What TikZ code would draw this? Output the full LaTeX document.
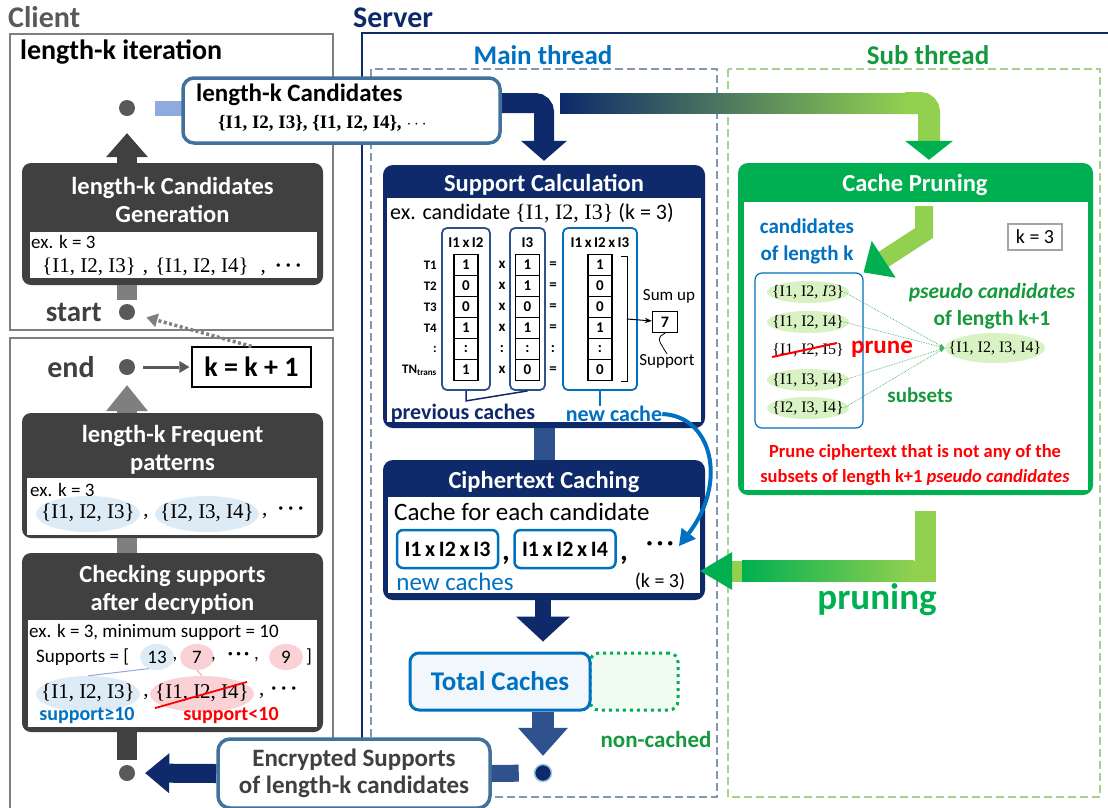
\documentclass[tikz,border=0pt]{standalone}
\usepackage{fontspec}
\setmainfont{Carlito}
\newfontfamily\setfnt{Liberation Serif}
\usetikzlibrary{arrows.meta,positioning,shapes.geometric}

\definecolor{cdark}{HTML}{404040}
\definecolor{cdot}{HTML}{595959}
\definecolor{cbar}{HTML}{7F7F7F}
\definecolor{cnavy}{HTML}{0E2A6B}
\definecolor{cmnavy}{HTML}{2F528F}
\definecolor{cblue}{HTML}{0070C0}
\definecolor{csteel}{HTML}{41719C}
\definecolor{clblue}{HTML}{8FAADC}
\definecolor{cpaleblue}{HTML}{DDEBF7}
\definecolor{cicebl}{HTML}{F2F7FC}
\definecolor{cgreen}{HTML}{00B050}
\definecolor{clgreen}{HTML}{92D050}
\definecolor{ctgreen}{HTML}{15993D}
\definecolor{cpalegreen}{HTML}{D8F2C4}
\definecolor{cmint}{HTML}{F0FBF2}
\definecolor{cpink}{HTML}{FAD2D6}
\definecolor{corange}{HTML}{F4B183}
\definecolor{cdash}{HTML}{8497B0}
\definecolor{cdashg}{HTML}{A9D18E}
\definecolor{cred}{HTML}{FF0000}

\newcommand\fsz[2]{\fontsize{#1}{#2}\selectfont}

\begin{document}
\begin{tikzpicture}
  [x=1pt,y=-1pt,every node/.style={inner sep=0pt},
   dot/.style={circle,fill=cdot,minimum size=16pt},
   darkbox/.style={rounded corners=9pt,fill=cdark},
   navybox/.style={rounded corners=10pt,fill=cnavy},
   inbox/.style={fill=white},
   boxtitle/.style={text=white,font=\bfseries\fsz{24.5}{28},align=center},
   exline/.style={anchor=west,font=\fsz{19}{22}},
   itemset/.style={font=\setfnt\fsz{21}{24}},
   bigell/.style={ellipse,minimum width=104pt,minimum height=36pt},
   smallell/.style={ellipse,minimum width=34pt,minimum height=26pt},
   dashbox/.style={line width=1.8pt,dash pattern=on 8pt off 4pt},
   colbox/.style={draw=cmnavy,line width=1.8pt,rounded corners=5pt,minimum height=162pt},
   cell/.style={draw,line width=1.4pt,minimum width=24pt,minimum height=21pt,font=\bfseries\fsz{15}{17}},
   opr/.style={font=\bfseries\fsz{15}{17}},
   hdr/.style={font=\bfseries\fsz{15}{17}},
   rowlbl/.style={anchor=east,font=\bfseries\fsz{13}{15}},
   cachebox/.style={draw=cblue,line width=2.5pt,rounded corners=6pt,minimum width=101pt,minimum height=38pt,font=\bfseries\fsz{22}{24}},
   gset/.style={ellipse,fill=cpalegreen,minimum width=82pt,minimum height=22pt},
   gtxt/.style={font=\setfnt\fsz{16}{18}}]

\fill [white] (0,0) rectangle (1108,807);
\useasboundingbox (0,0) rectangle (1108,807);

% client
\node [anchor=west,text=cdot,font=\bfseries\fsz{30}{32}] (client) at (8,17) {Client};
\draw [cbar,line width=2pt] (10,34) rectangle (333,330);
\draw [cbar,line width=2pt] (10,338) rectangle (333,830);
\node [anchor=west,font=\bfseries\fsz{28}{30}] (iter) at (20,52) {length-k iteration};

\node [dot] (dtop) at (127,108) {};
\node [darkbox,minimum width=301pt,minimum height=122pt] (gen) at (172.5,224) {};
\node [boxtitle] (gentitle) at (172.5,200) {length-k Candidates\\Generation};
\node [inbox,minimum width=287pt,minimum height=46pt] (genin) at (173.5,255) {};
\node [exline] (genex) at (31,242) {ex. k = 3};
\node [itemset,anchor=west] (genset) at (42,267)
  {\{I1, I2, I3\}\hspace{7pt},\hspace{7pt}\{I1, I2, I4\}\hspace{12pt},\hspace{9pt}\textbf{·\hspace{3pt}·\hspace{3pt}·}};
\node [dot] (dstart) at (127,312) {};
\node [left=17pt of dstart,text=cdark,font=\bfseries\fsz{29}{31}] (start) {start};
\draw [line width=20pt,cdark,-{Triangle[width=42pt,length=24pt,line width=0pt]},shorten >=17pt] (gen.north -| dtop) -- (dtop.south);
\draw [line width=20pt,cbar,shorten >=4pt] (gen.south -| dstart) -- (dstart.north);

\node [dot] (dend) at (127,367) {};
\node [left=24pt of dend,text=cdark,font=\bfseries\fsz{30}{32}] (end) {end};
\node [draw,line width=1.3pt,minimum width=119pt,minimum height=40pt,font=\bfseries\fsz{28}{30}] (kinc) at (251.5,367) {k = k + 1};
\draw [line width=3pt,cdot,-{Triangle[width=12pt,length=10pt,line width=0pt]},shorten <=8pt,shorten >=2pt] (dend) -- (kinc);
\draw [line width=3.5pt,cbar,dash pattern=on 3pt off 2.5pt,-{Triangle[width=14pt,length=11pt,line width=0pt]},shorten >=12pt] (kinc.north) -- (dstart);

\node [darkbox,minimum width=301pt,minimum height=125pt] (freq) at (172.5,475.5) {};
\node [boxtitle] (freqtitle) at (172.5,450) {length-k Frequent\\patterns};
\node [inbox,minimum width=290pt,minimum height=57pt] (freqin) at (172,506.5) {};
\node [exline] (freqex) at (30,490) {ex. k = 3};
\node [bigell,fill=cpaleblue] (f1bg) at (88,514) {};
\node [bigell,fill=cpaleblue] (f2bg) at (207,514) {};
\node [itemset] (f1) at (88,513) {\{I1, I2, I3\}};
\node [itemset] (fc1) at (146,517) {,};
\node [itemset] (f2) at (207,513) {\{I2, I3, I4\}};
\node [itemset,anchor=west] (fc2) at (262,513) {,\hspace{10pt}\textbf{·\hspace{3pt}·\hspace{3pt}·}};
\draw [line width=20pt,cbar,-{Triangle[width=42pt,length=26pt,line width=0pt]},shorten >=10pt] (freq.north -| dend) -- (dend.south);

\node [darkbox,minimum width=301pt,minimum height=179pt] (check) at (172.5,642.5) {};
\node [boxtitle] (checktitle) at (172.5,590) {Checking supports\\after decryption};
\node [inbox,minimum width=289pt,minimum height=107pt] (checkin) at (172.5,673.5) {};
\draw [line width=20pt,cbar] (check.north -| dend) -- (freq.south -| dend);
\node [exline] (checkex) at (29,632) {ex. k = 3, minimum support = 10};
\node [exline] (supps) at (36,657) {Supports = [};
\node [smallell,fill=cpaleblue] (s13bg) at (157,657) {};
\node [smallell,fill=cpink] (s7bg) at (197,657) {};
\node [smallell,fill=cpink] (s9bg) at (286,657) {};
\node [font=\fsz{19}{22}] (s13) at (157,657) {13};
\node [font=\fsz{19}{22}] (sc1) at (175,660) {,};
\node [font=\fsz{19}{22}] (s7) at (197,657) {7};
\node [exline] (sc2) at (211,657) {,\hspace{12pt}\textbf{·\hspace{3pt}·\hspace{3pt}·}\hspace{5pt},};
\node [font=\fsz{19}{22}] (s9) at (286,657) {9};
\node [font=\fsz{19}{22}] (srb) at (309,657) {]};
\node [bigell,fill=cpaleblue] (c1bg) at (88,694) {};
\node [bigell,fill=cpink] (c2bg) at (202,694) {};
\draw [clblue,line width=1pt] (s13bg.235) -- (c1bg.north);
\draw [corange,line width=1pt] (s7bg.south) -- (c2bg.north);
\node [itemset] (c1) at (88,693) {\{I1, I2, I3\}};
\node [itemset] (cc1) at (146,697) {,};
\node [itemset] (c2) at (202,693) {\{I1, I2, I4\}};
\node [itemset,anchor=west] (cc2) at (259,693) {,\hspace{6pt}\textbf{·\hspace{3pt}·\hspace{3pt}·}};
\draw [cred,line width=1.8pt] ([yshift=-6pt]c2.south west) -- ([xshift=-2pt,yshift=2pt]c2.north east);
\node [text=cblue,font=\bfseries\fsz{20}{22}] (sge) at (87,716) {support≥10};
\node [text=cred,font=\bfseries\fsz{20}{22}] (slt) at (231,716) {support<10};
\node [dot] (dbot) at (127,773) {};
\draw [line width=20pt,cdark,shorten >=5pt] (check.south -| dbot) -- (dbot.north);

% server
\node [anchor=west,text=cnavy,font=\bfseries\fsz{30}{32}] (server) at (353,18) {Server};
\draw [cnavy,line width=2.2pt] (362,830) -- (362,33) -- (1130,33);
\node [text=cblue,font=\bfseries\fsz{27}{30}] (mainlbl) at (543,55) {Main thread};
\node [text=ctgreen,font=\bfseries\fsz{27}{30}] (sublbl) at (928,55) {Sub thread};
\draw [dashbox,cdash] (371,69) rectangle (717,797);
\draw [dashbox,cdashg] (728,69) rectangle (1100,797);

\node [navybox,minimum width=322pt,minimum height=263pt] (calc) at (544,296.5) {};
\node [boxtitle] (calctitle) at (544,185) {Support Calculation};
\node [inbox,minimum width=314pt,minimum height=224pt] (calcin) at (544,310) {};
\node [anchor=west,font=\fsz{22}{24}] (calcex) at (390,213) {ex. candidate {\setfnt\{I1, I2, I3\}} (k = 3)};
\node [colbox,minimum width=48pt] (pc1) at (466,309) {};
\node [colbox,minimum width=35pt] (pc2) at (527.5,309) {};
\node [colbox,draw=cblue,minimum width=74pt] (nc) at (600,309) {};
\node [hdr] (h1) at (466,243) {I1\,x\,I2};
\node [hdr] (h2) at (527.5,243) {I3};
\node [hdr] (h3) at (600,243) {I1\,x\,I2\,x\,I3};
\foreach \t/\a/\o/\b/\e/\c [count=\i from 0] in
  {T1/1/x/1/=/1,T2/0/x/1/=/0,T3/0/x/0/=/0,T4/1/x/1/=/1,:/:/:/:/:/:,TN\textsubscript{trans}/1/x/0/=/0} {
  \node [rowlbl] (t\i) at (437,265+21*\i) {\t};
  \node [cell] (a\i) at (466,265+21*\i) {\a};
  \node [opr] (o\i) at (502,265+21*\i) {\o};
  \node [cell] (b\i) at (527.5,265+21*\i) {\b};
  \node [opr] (e\i) at (553,265+21*\i) {\e};
  \node [cell] (c\i) at (600,265+21*\i) {\c};
}
\draw [line width=1pt] (621,256) -- (627,256) -- (627,381) -- (621,381);
\coordinate (brk) at (627,319);
\node [draw,line width=1.3pt,minimum width=25pt,minimum height=21pt,font=\bfseries\fsz{16}{18}] (sum) at (665,322) {7};
\draw [line width=1pt,-{Stealth[length=7pt]}] (brk) -- (sum);
\node [font=\fsz{17}{19}] (sumlbl) at (669,296) {Sum up};
\node [font=\fsz{17}{19}] (supplbl) at (667,361) {Support};
\draw [line width=0.8pt] (sum.south) .. controls (657,338) .. (supplbl.north);
\node [text=cnavy,font=\bfseries\fsz{22}{24}] (prevc) at (463,414) {previous caches};
\node [text=cblue,font=\bfseries\fsz{22}{24}] (newc) at (614,414) {new cache};
\draw [cnavy,line width=1.5pt] (pc1.south) -- ++(0,10) -- (pc2.south);
\draw [cblue,line width=1.5pt] (nc.south) -- (nc.south |- newc.north);

\node [navybox,minimum width=322pt,minimum height=140pt] (cipher) at (544,530) {};
\node [boxtitle] (ciphertitle) at (544,482) {Ciphertext Caching};
\node [inbox,minimum width=312pt,minimum height=96pt] (cipherin) at (544,545) {};
\node [anchor=west,font=\fsz{25}{28}] (cipherex) at (394,512) {Cache for each candidate};
\node [cachebox] (cb1) at (447.5,549) {I1\,x\,I2\,x\,I3};
\node [font=\bfseries\fsz{30}{32}] (cm1) at (506,560) {,};
\node [cachebox] (cb2) at (565,549) {I1\,x\,I2\,x\,I4};
\node [font=\bfseries\fsz{30}{32}] (cm2) at (624,560) {,};
\node [font=\bfseries\fsz{24}{26}] (cdots) at (660,546) {·\hspace{4pt}·\hspace{4pt}·};
\node [font=\fsz{20}{22}] (ck) at (660,582) {(k = 3)};
\node [text=cblue,font=\fsz{25}{28}] (newcs) at (455,582) {new caches};
\draw [line width=21pt,cmnavy] (calc.south) -- (cipher.north);

\coordinate (cachein) at (679,546);
\draw [cblue,line width=4pt,-{Triangle[width=18pt,length=16pt,line width=0pt]}] (newc.east) .. controls (712,416) and (728,482) .. (cachein);

\node [draw=cgreen,line width=3pt,dash pattern=on 3pt off 4pt,rounded corners=9pt,fill=cmint,minimum width=88pt,minimum height=57pt] (nocache) at (634,681.5) {};
\node [draw=cblue,line width=3pt,rounded corners=9pt,fill=cicebl,minimum width=180pt,minimum height=57pt,text=cblue,font=\bfseries\fsz{27}{30}] (total) at (500,681.5) {Total Caches};
\node [text=ctgreen,font=\bfseries\fsz{23}{26}] (noncached) at (656,739) {non-cached};
\node [circle,fill=cnavy,draw=cblue!40,line width=1.5pt,minimum size=17pt] (sdot) at (543,773) {};
\draw [line width=16pt,cnavy,-{Triangle[width=54pt,length=25pt,line width=0pt]},shorten >=10pt] (cipher.south -| sdot) -- (total.north -| sdot);
\draw [line width=22pt,cmnavy,-{Triangle[width=50pt,length=28pt,line width=0pt]},shorten >=8pt] (total.south -| sdot) -- (sdot.north);

\node [draw=csteel,line width=3.5pt,rounded corners=12pt,fill=white,minimum width=272pt,minimum height=69pt,text=cdark,font=\bfseries\fsz{25}{27},align=center] (enc) at (354,773.5) {Encrypted Supports\\of length-k candidates};
\draw [line width=17pt,cmnavy,shorten <=15pt] (sdot.west) -- (enc.east);
\draw [line width=19pt,cnavy,-{Triangle[width=40pt,length=24pt,line width=0pt]},shorten >=10pt] (enc.west) -- (dbot.east);

\node [rounded corners=10pt,fill=cgreen,minimum width=355pt,minimum height=332pt] (prune) at (915.5,329) {};
\node [boxtitle] (prunetitle) at (915,185) {Cache Pruning};
\node [inbox,minimum width=344pt,minimum height=288pt] (prunein) at (916,346) {};
\node [draw=cbar!70,line width=1.2pt,minimum width=54pt,minimum height=26pt,font=\fsz{20}{22}] (kbox) at (1035,237) {k = 3};
\node [text=cblue,font=\bfseries\fsz{21}{27},align=center] (lenklbl) at (807,241) {candidates\\of length k};
\node [draw=cblue,line width=1.2pt,rounded corners=7pt,minimum width=108pt,minimum height=155pt] (lenk) at (809,350.5) {};
\foreach \i/\y in {1/292,2/322,4/380,5/408}
  \node [gset] (g\i) at (808,\y) {};
\node [gtxt] (s1) at (808,292) {\{I1, I2, \textit{I}3\}};
\node [gtxt] (s2) at (808,322) {\{I1, I2, I4\}};
\node [gtxt] (s3) at (808,350) {\{I1, I2, I5\}};
\node [gtxt] (s4) at (808,380) {\{I1, I3, I4\}};
\node [gtxt] (s5) at (808,408) {\{I2, I3, I4\}};
\draw [cred,line width=2pt] (s3.south west) -- ([xshift=-7pt]s3.north east);
\node [text=cred,font=\bfseries\fsz{25}{28}] (prunelbl) at (882,349) {prune};
\node [text=ctgreen,font=\bfseries\fsz{21.5}{27},align=center] (pslbl) at (992,306) {\textit{pseudo candidates}\\of length k+1};
\node [ellipse,fill=cpalegreen,minimum width=100pt,minimum height=30pt] (psbg) at (995,348) {};
\node [gtxt] (ps) at (995,348) {\{I1, I2, I3, I4\}};
\foreach \i in {1,2,4,5}
  \draw [ctgreen!80,line width=0.7pt,densely dotted,-{Latex[length=5pt]}] (s\i.east) -- (psbg.west);
\node [text=ctgreen,font=\bfseries\fsz{21}{24}] (subsets) at (920,395) {subsets};
\node [text=cred,font=\bfseries\fsz{18.5}{25},align=center] (prunenote) at (915,465)
  {Prune ciphertext that is not any of the\\subsets of length k+1 \textit{pseudo candidates}};
\coordinate (gin) at (924,206);
\coordinate (gbend) at (924,233);
\draw [line width=18pt,clgreen,-{Triangle[width=44pt,length=24pt,line width=0pt,color=cgreen]}] (gin) -- (gbend) -- (lenk.north east);

% arrows
\coordinate (pout) at (925,511);
\coordinate (pbend) at (925,571);
\draw [line width=21pt,clgreen,-{Triangle[width=38pt,length=32pt,line width=0pt,color=cgreen]},shorten >=-5pt] (pout) -- (pbend) -- (cipher.east |- pbend);
\shade [left color=cgreen,right color=clgreen] (742,560.5) rectangle (914,581.5);
\node [text=cgreen,font=\bfseries\fsz{37}{40}] (pruning) at (877,600) {pruning};

\coordinate (bandl) at (485,103);
\coordinate (bandr) at (905,103);
\draw [line width=20pt,cnavy,rounded corners=9pt,-{Triangle[width=46pt,length=20pt,line width=0pt]},shorten >=4pt] (bandl) -| (calc.north);
\draw [line width=22pt,clgreen,rounded corners=9pt,-{Triangle[width=48pt,length=19pt,line width=0pt,color=cgreen]},shorten >=3pt] (bandr) -| ([xshift=13.5pt]prune.north);
\shade [left color=cnavy,right color=clgreen] (560,93) rectangle (906,113);

\draw [line width=15pt,clblue,shorten <=20pt] (dtop) -- (190,108);
\node [draw=csteel,line width=3.5pt,rounded corners=11pt,fill=white,minimum width=317pt,minimum height=65pt] (cand) at (341.5,110.5) {};
\node [anchor=west,font=\bfseries\fsz{25}{28}] (candlbl) at (196,95) {length-k Candidates};
\node [anchor=west,font=\setfnt\bfseries\fsz{19}{22}] (candset) at (218,123) {\{I1, I2, I3\}, \{I1, I2, I4\}, $\cdots$};
\end{tikzpicture}
\end{document}
